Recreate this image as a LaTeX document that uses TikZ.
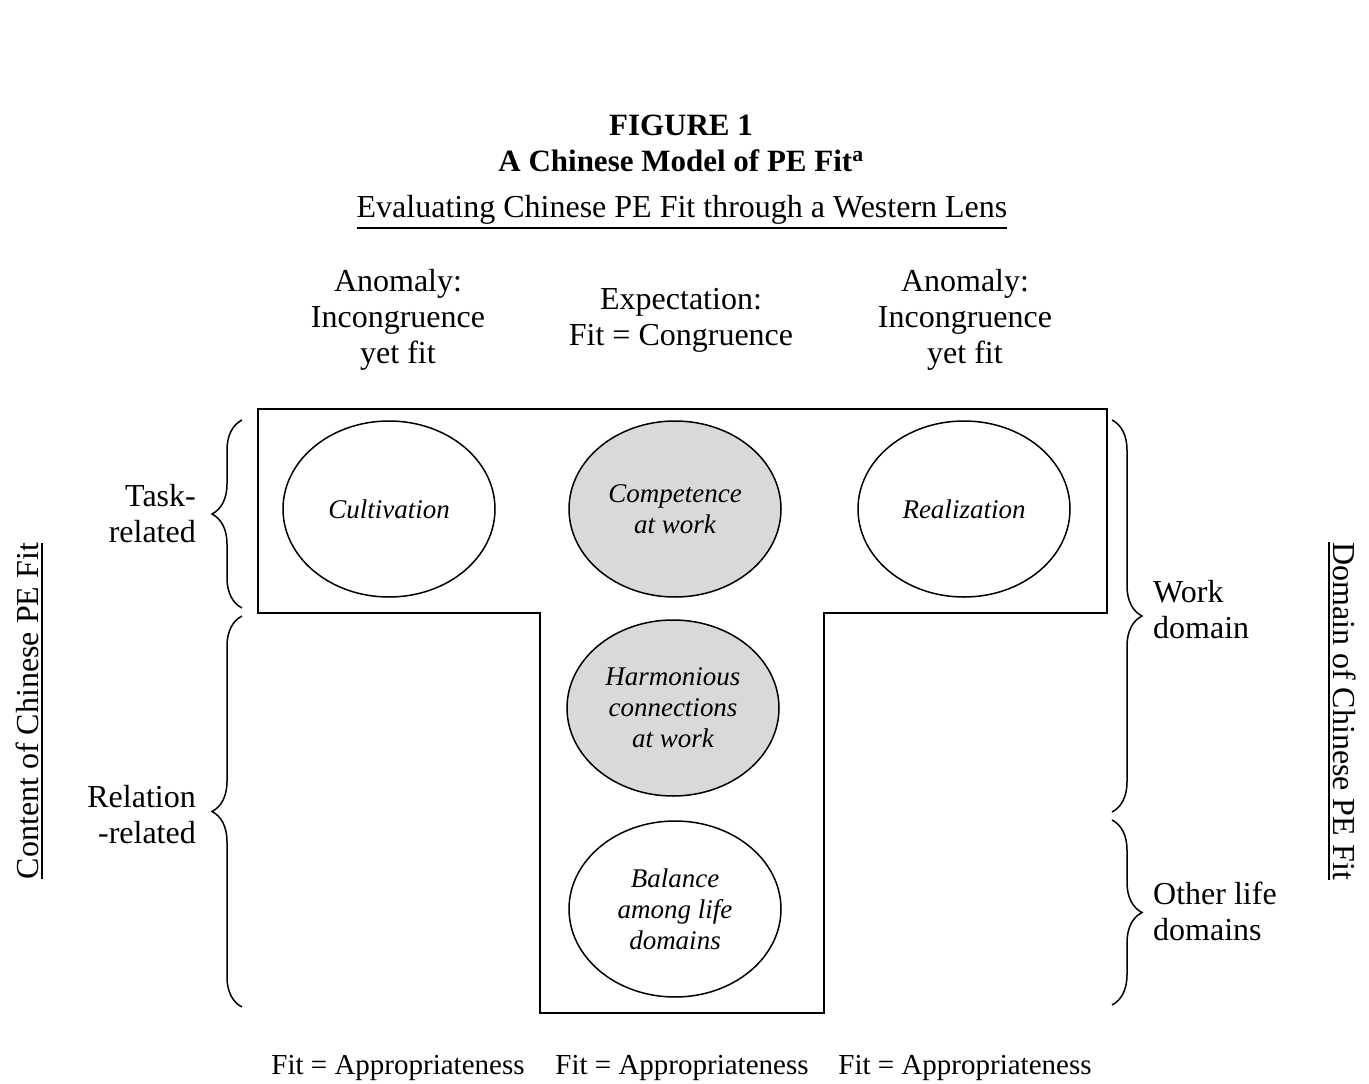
\documentclass[tikz,border=0pt]{standalone}
\usepackage{fontspec}
\setmainfont{Liberation Serif}
\usetikzlibrary{shapes.geometric,decorations.pathreplacing}

\newcommand\bodyfont{\fontsize{32}{36}\selectfont}
\newcommand\headfont{\fontsize{31}{36}\selectfont\bfseries}
\newcommand\footfont{\fontsize{29}{34}\selectfont}
\newcommand\ovalfont{\fontsize{27}{31}\selectfont\itshape}
% text with a heavy underline that turns with its node
\newcommand\thickul[1]{\vtop{\hbox{#1}\kern3pt\hrule height 2pt}}

\begin{document}
\begin{tikzpicture}[x=1pt,y=-1pt,
  lbl/.style={font=\bodyfont, inner sep=0pt, align=center},
  oval/.style={ellipse, draw, line width=1.5pt, minimum width=212pt,
    minimum height=176pt, inner sep=0pt, align=center, font=\ovalfont},
  core/.style={oval, fill=gray!30},
  bracket/.style={decorate, decoration={brace, amplitude=30pt}, line width=1.5pt},
  frame/.style={line width=2.2pt, line join=miter}]
\useasboundingbox (0,0) rectangle (1369,1084);

% heading
\node[lbl, font=\headfont, anchor=base] (fig) at (681,135) {FIGURE 1};
\node[lbl, font=\headfont, anchor=base] (title) at (681,171)
  {A Chinese Model of PE Fit\textsuperscript{a}};
\node[lbl, anchor=base] (lens) at (682,217)
  {\thickul{Evaluating Chinese PE Fit through a Western Lens}};

% column heads
\node[lbl] (anomL) at (398,320) {Anomaly:\\Incongruence\\yet fit};
\node[lbl] (expect) at (681,320) {Expectation:\\Fit = Congruence};
\node[lbl] (anomR) at (965,320) {Anomaly:\\Incongruence\\yet fit};

% T-shaped frame
\draw[frame] (258,409) -| (1107,613) -| (824,1013) -| (540,613) -- (258,613) -- cycle;

% the five facets
\node[oval] (cult) at (389,509) {Cultivation};
\node[core] (comp) at (675,509) {Competence\\at work};
\node[oval] (real) at (964,509) {Realization};
\node[core] (harm) at (673,708) {Harmonious\\connections\\at work};
\node[oval] (bal) at (675,909) {Balance\\among life\\domains};

% content braces (left)
\draw[bracket] (242,608) -- (242,420);
\draw[bracket] (242,1007) -- (242,616);
\node[lbl, align=right, anchor=east] (task) at (196,514) {Task-\\related};
\node[lbl, align=right, anchor=east] (rel) at (196,815) {Relation\\-related};

% domain braces (right)
\draw[bracket] (1112,420) -- (1112,812);
\draw[bracket] (1112,820) -- (1112,1005);
\node[lbl, align=left, anchor=west] (work) at (1153,610) {Work\\domain};
\node[lbl, align=left, anchor=west] (other) at (1153,911) {Other life\\domains};

% axis titles
\node[lbl, rotate=90, anchor=base] (content) at (38,711) {\thickul{Content of Chinese PE Fit}};
\node[lbl, rotate=-90, anchor=base] (domain) at (1333,711) {\thickul{Domain of Chinese PE Fit}};

% column feet
\node[lbl, font=\footfont, anchor=base] (apL) at (398,1074) {Fit = Appropriateness};
\node[lbl, font=\footfont, anchor=base] (apM) at (682,1074) {Fit = Appropriateness};
\node[lbl, font=\footfont, anchor=base] (apR) at (965,1074) {Fit = Appropriateness};
\end{tikzpicture}
\end{document}
